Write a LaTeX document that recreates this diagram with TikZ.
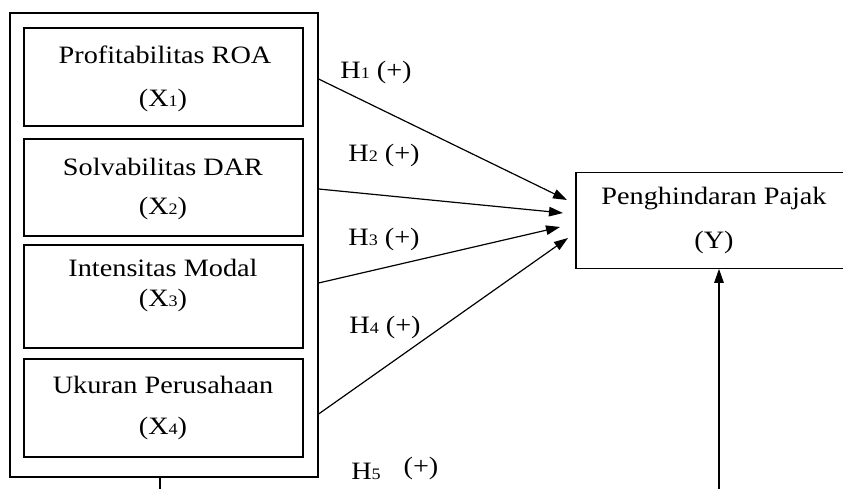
\documentclass[tikz,border=0pt]{standalone}
\usepackage{fontspec}
\setmainfont{Liberation Serif}
\usetikzlibrary{arrows.meta}
\newcommand\subd[1]{{\fontsize{16}{16}\selectfont #1}}
\newcommand\wide[1]{\scalebox{1.13}[1]{#1}}
\begin{document}
\begin{tikzpicture}[x=1pt,y=-1pt,
  box/.style={draw, line width=1.2pt, inner sep=0pt},
  lbl/.style={inner sep=0pt, font=\fontsize{25}{28}\selectfont},
  hlbl/.style={inner sep=0pt, font=\fontsize{25}{28}\selectfont},
  conn/.style={line width=1.2pt},
  arr/.style={line width=1.2pt, -{Triangle[length=14pt,width=9.5pt]}}]
\clip (0,0) rectangle (843,489);
% outer group box
\node[box, minimum width=308, minimum height=464] (outer) at (164,245) {};
% inner boxes
\node[box, minimum width=279, minimum height=98] (x1) at (163.5,77) {};
\node[box, minimum width=279, minimum height=97] (x2) at (163.5,187.5) {};
\node[box, minimum width=279, minimum height=103] (x3) at (163.5,296.5) {};
\node[box, minimum width=279, minimum height=98] (x4) at (163.5,408) {};
\node[box, minimum width=272, minimum height=95.5] (y) at (712,220.5) {};
% texts
\node[lbl] (x1a) at (165,55) {\wide{Profitabilitas ROA}};
\node[lbl] (x1b) at (163,100) {\wide{(X\subd{1})}};
\node[lbl] (x2a) at (163,167) {\wide{Solvabilitas DAR}};
\node[lbl] (x2b) at (163,208) {\wide{(X\subd{2})}};
\node[lbl] (x3a) at (163,268) {\wide{Intensitas Modal}};
\node[lbl] (x3b) at (163,300) {\wide{(X\subd{3})}};
\node[lbl] (x4a) at (163,385) {\wide{Ukuran Perusahaan}};
\node[lbl] (x4b) at (163,428) {\wide{(X\subd{4})}};
\node[lbl] (ya) at (714,199) {\wide{Penghindaran Pajak}};
\node[lbl] (yb) at (714,242) {\wide{(Y)}};
% hypothesis labels
\node[hlbl] (h1) at (376,72) {\wide{H\subd{1} (+)}};
\node[hlbl] (h2) at (384,155) {\wide{H\subd{2} (+)}};
\node[hlbl] (h3) at (384,239) {\wide{H\subd{3} (+)}};
\node[hlbl] (h4) at (385,327) {\wide{H\subd{4} (+)}};
\node[hlbl] (h5a) at (366,471) {\wide{H\subd{5}}};
\node[hlbl] (h5b) at (421,468) {\wide{(+)}};
% connector end points
\coordinate (s1) at (outer.east |- 0,79);
\coordinate (s2) at (outer.east |- 0,189);
\coordinate (s3) at (outer.east |- 0,283);
\coordinate (s4) at (outer.east |- 0,414);
\coordinate (t1) at (567,200);
\coordinate (t2) at (563,213);
\coordinate (t3) at (560,227);
\coordinate (t4) at (568,238);
\coordinate (b1) at (160,492);
\coordinate (b2) at (719,492);
% connectors
\draw[arr] (s1) -- (t1);
\draw[arr] (s2) -- (t2);
\draw[arr] (s3) -- (t3);
\draw[arr] (s4) -- (t4);
\draw[conn] (outer.south -| b1) -- (b1);
\draw[arr] (b2) -- (y.south -| b2);
\end{tikzpicture}
\end{document}
